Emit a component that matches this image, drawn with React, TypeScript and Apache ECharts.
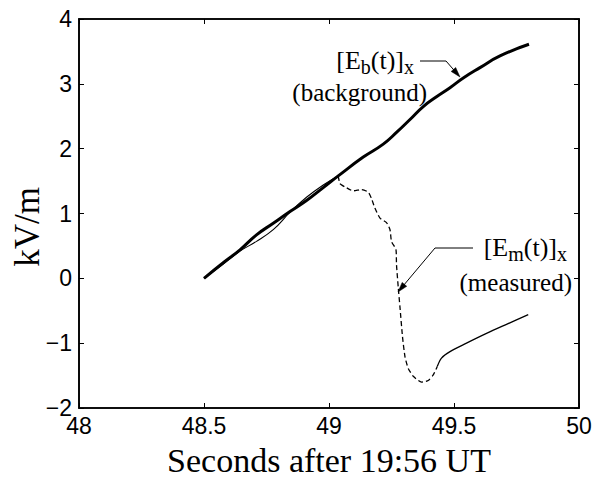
import React, { useEffect, useRef } from "react";
import * as echarts from "echarts";

// Background field [Eb(t)]x (thick line)
const bgT = [48.5, 48.577, 48.644, 48.71, 48.777, 48.844, 48.91, 48.977, 49.037, 49.137, 49.217, 49.27, 49.324, 49.377, 49.43, 49.484, 49.537, 49.604, 49.684, 49.8];
const bgV = [0, 0.24, 0.44, 0.67, 0.85, 1.03, 1.2, 1.4, 1.58, 1.87, 2.07, 2.25, 2.45, 2.65, 2.8, 2.94, 3.09, 3.25, 3.43, 3.61];

// Measured field [Em(t)]x, part 1 (solid, close to background)
const m1T = [48.5, 48.577, 48.644, 48.71, 48.777, 48.844, 48.91, 48.977, 49.037];
const m1V = [0, 0.22, 0.42, 0.57, 0.75, 1.02, 1.25, 1.44, 1.58];

// part 2 (dashed drop)
const m2T = [49.037, 49.044, 49.064, 49.097, 49.13, 49.157, 49.17, 49.184, 49.204, 49.23, 49.244, 49.25, 49.268, 49.27, 49.277, 49.284, 49.294, 49.304, 49.317, 49.337, 49.37, 49.397, 49.417, 49.433];
const m2V = [1.58, 1.46, 1.41, 1.35, 1.37, 1.33, 1.23, 1.08, 0.93, 0.86, 0.75, 0.57, 0.44, 0.21, -0.14, -0.45, -0.9, -1.21, -1.39, -1.51, -1.6, -1.575, -1.49, -1.36];

// part 3 (solid recovery)
const m3T = [49.433, 49.45, 49.484, 49.55, 49.63, 49.71, 49.797];
const m3V = [-1.36, -1.23, -1.13, -1.0, -0.85, -0.71, -0.56];

const xMin = 48, xMax = 50, xStep = 0.5;
const yMin = -2, yMax = 4, yStep = 1;

const xTitle = "Seconds after 19:56 UT";
const yTitle = "kV/m";

const SERIF = "'Liberation Serif', 'Times New Roman', serif";
const SANS = "'Liberation Sans', Arial, Helvetica, sans-serif";

const zip = (t: number[], v: number[]) => t.map((x, i) => [x, v[i]]);

function measure(text: string, size: number) {
  const c = document.createElement("canvas").getContext("2d")!;
  c.font = `${size}px ${SERIF}`;
  return c.measureText(text).width;
}

// label with subscripts: parts = [text, isSub]
function subLabel(parts: [string, boolean][], right: number, midY: number, main: number, sub: number, subDy: number) {
  const widths = parts.map(([t, s]) => measure(t, s ? sub : main));
  const total = widths.reduce((a, b) => a + b, 0);
  let x = right - total;
  const els: any[] = [];
  parts.forEach(([t, s], i) => {
    els.push({
      type: "text",
      x,
      y: s ? midY + subDy : midY,
      style: { text: t, fontFamily: SERIF, fontSize: s ? sub : main, fill: "#000", textAlign: "left", textVerticalAlign: "middle" },
    });
    x += widths[i];
  });
  return els;
}

function arrow(pts: number[][]) {
  const tip = pts[pts.length - 1];
  const prev = pts[pts.length - 2];
  const dx = tip[0] - prev[0], dy = tip[1] - prev[1];
  const len = Math.hypot(dx, dy);
  const ux = dx / len, uy = dy / len;
  const L = 10, W = 3;
  const bx = tip[0] - ux * L, by = tip[1] - uy * L;
  const px = -uy * W, py = ux * W;
  const shaft = pts.slice(0, -1).concat([[tip[0] - ux * L * 0.8, tip[1] - uy * L * 0.8]]);
  return [
    { type: "polyline", shape: { points: shaft }, style: { stroke: "#000", lineWidth: 1, fill: "none" } },
    { type: "polygon", shape: { points: [tip, [bx + px, by + py], [bx - px, by - py]] }, style: { fill: "#000", stroke: "#000", lineWidth: 0.5 } },
  ];
}

export default function App() {
  const ref = useRef<HTMLDivElement>(null);
  useEffect(() => {
    if (!ref.current) return;
    const chart = echarts.init(ref.current, undefined, { renderer: "svg" });
    const fmt = (v: number) => String(v).replace("-", "\u2212");
    const line = { show: true, onZero: false, lineStyle: { color: "#000", width: 1.6 } };
    const tick = { show: true, inside: true, length: 5, lineStyle: { color: "#000", width: 1 } };
    chart.setOption({
      animation: false,
      backgroundColor: "#fff",
      grid: { left: 79, right: 24, top: 19, bottom: 70, show: true, borderColor: "#000", borderWidth: 1.6 },
      xAxis: [
        {
          type: "value", min: xMin, max: xMax, interval: xStep, position: "bottom",
          name: xTitle, nameLocation: "middle", nameGap: 35,
          nameTextStyle: { fontFamily: SERIF, fontSize: 34, color: "#000" },
          axisLine: line,
          axisTick: tick,
          axisLabel: { fontFamily: SANS, fontSize: 23, color: "#000", margin: 6, formatter: fmt },
          splitLine: { show: false },
        },
        {
          type: "value", min: xMin, max: xMax, interval: xStep, position: "top",
          axisLine: line, axisTick: tick, axisLabel: { show: false }, splitLine: { show: false },
        },
      ],
      yAxis: [
        {
          type: "value", min: yMin, max: yMax, interval: yStep, position: "left",
          axisLine: line,
          axisTick: tick,
          axisLabel: { fontFamily: SANS, fontSize: 23, color: "#000", margin: 7, formatter: fmt },
          splitLine: { show: false },
        },
        {
          type: "value", min: yMin, max: yMax, interval: yStep, position: "right",
          axisLine: line, axisTick: tick, axisLabel: { show: false }, splitLine: { show: false },
        },
      ],
      series: [
        {
          type: "line", data: zip(m1T, m1V), showSymbol: false, smooth: 0.4,
          lineStyle: { color: "#000", width: 1.1 },
        },
        {
          type: "line", data: zip(m2T, m2V), showSymbol: false, smooth: 0.2,
          lineStyle: { color: "#000", width: 1.3, type: [5, 3] },
        },
        {
          type: "line", data: zip(m3T, m3V), showSymbol: false, smooth: 0.3,
          lineStyle: { color: "#000", width: 1.3 },
        },
        {
          type: "line", data: zip(bgT, bgV), showSymbol: false, smooth: 0.5,
          lineStyle: { color: "#000", width: 3 },
        },
      ],
      graphic: [
        { type: "text", x: 27, y: 227, rotation: Math.PI / 2, style: { text: yTitle, fontFamily: SERIF, fontSize: 35, fill: "#000", textAlign: "center", textVerticalAlign: "middle" } },
        ...subLabel([["[E", false], ["b", true], ["(t)]", false], ["x", true]], 414, 60, 26, 20, 7),
        { type: "text", x: 427, y: 92, style: { text: "(background)", fontFamily: SERIF, fontSize: 25, fill: "#000", textAlign: "right", textVerticalAlign: "middle" } },
        ...arrow([[420, 61], [446, 61], [460, 77]]),
        ...subLabel([["[E", false], ["m", true], ["(t)]", false], ["x", true]], 567, 247, 26, 20, 7),
        { type: "text", x: 572, y: 282, style: { text: "(measured)", fontFamily: SERIF, fontSize: 25, fill: "#000", textAlign: "right", textVerticalAlign: "middle" } },
        ...arrow([[473, 248], [435, 248], [398, 292]]),
      ],
    });
    return () => chart.dispose();
  }, []);
  return <div ref={ref} style={{ position: "fixed", left: 0, top: 0, width: 603, height: 482, background: "#fff" }} />;
}
